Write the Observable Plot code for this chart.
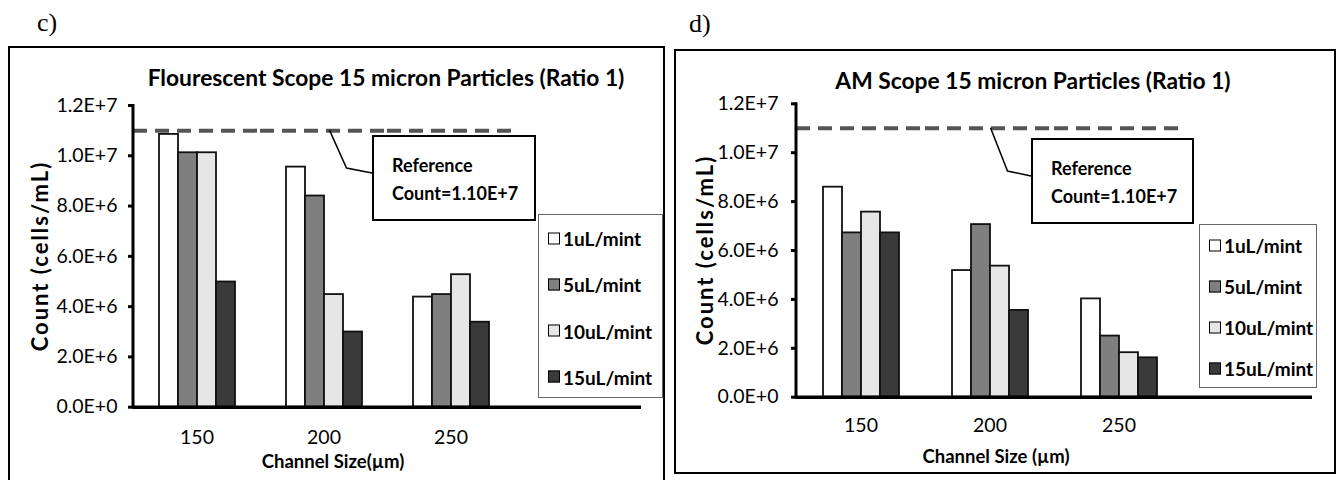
<!DOCTYPE html>
<html><head><meta charset="utf-8">
<script src="https://cdn.jsdelivr.net/npm/d3@7"></script>
<script src="https://cdn.jsdelivr.net/npm/@observablehq/plot@0.6"></script>
<style>
body{margin:0;background:#fff;}
#page{position:relative;width:1341px;height:480px;overflow:hidden;font-family:Lato,"Open Sans",sans-serif;color:#000;}
.panelbox{position:absolute;border:2px solid #000;box-sizing:border-box;}
.plab{position:absolute;font-family:"Liberation Serif",serif;font-size:26px;line-height:1;}
.title{position:absolute;font-weight:bold;white-space:nowrap;transform:translateX(-50%);line-height:1;}
.ytitle{position:absolute;font-weight:bold;white-space:nowrap;font-size:22px;letter-spacing:2px;transform:translate(-50%,-50%) rotate(-90deg);line-height:1;}
.xtitle{position:absolute;font-weight:bold;white-space:nowrap;font-size:18.5px;transform:translateX(-50%);line-height:1;}
.callout{position:absolute;border:2px solid #000;background:#fff;box-sizing:border-box;font-weight:bold;font-size:18px;line-height:1;}
.callout div{position:absolute;white-space:nowrap;}
.legend{position:absolute;border:1.5px solid #666;background:#fff;box-sizing:border-box;font-weight:bold;font-size:19px;}
.legend .item{position:absolute;left:9px;white-space:nowrap;display:flex;align-items:center;transform:translateY(-50%);}
.legend .sw{width:12px;height:12px;border:1.5px solid #000;margin-right:3px;box-sizing:border-box;}
svg g[aria-label="y-axis tick"], svg g[aria-label="y-axis tick"] path{stroke-width:3px;stroke:#000;}
</style></head>
<body><div id="page"></div>
<script>
// ---- data ----
const channelSizes = ["150", "200", "250"];
const slots = ["150", "200", "250", ""];           // Excel-style empty 4th category slot
const flowRates = ["1uL/mint", "5uL/mint", "10uL/mint", "15uL/mint"];
const rateColors = ["#ffffff", "#7f7f7f", "#e6e6e6", "#3a3a3a"];
const yTicks = [0, 2e6, 4e6, 6e6, 8e6, 1e7, 1.2e7];
const referenceCount = 1.1e7;

// Panel c: Flourescent scope
const flour_1uL  = [1.085e7, 9.55e6, 4.38e6];
const flour_5uL  = [1.012e7, 8.4e6, 4.48e6];
const flour_10uL = [1.012e7, 4.48e6, 5.27e6];
const flour_15uL = [4.98e6, 2.99e6, 3.38e6];

// Panel d: AM scope
const am_1uL  = [8.59e6, 5.18e6, 4.02e6];
const am_5uL  = [6.72e6, 7.06e6, 2.5e6];
const am_10uL = [7.57e6, 5.36e6, 1.82e6];
const am_15uL = [6.72e6, 3.55e6, 1.61e6];

const sci = d => {
  if (d === 0) return "0.0E+0";
  const e = Math.floor(Math.log10(d) + 1e-9);
  return (d / 10 ** e).toFixed(1) + "E+" + e;
};

const page = document.getElementById("page");
function addDiv(cls, html, style) {
  const el = document.createElement("div");
  el.className = cls; el.innerHTML = html;
  Object.assign(el.style, style);
  page.appendChild(el);
  return el;
}

function panel(cfg) {
  const rows = [];
  channelSizes.forEach((c, i) => flowRates.forEach((r, j) => rows.push({channel: c, rate: r, value: cfg.series[j][i]})));
  const refRows = channelSizes.map(c => ({channel: c, value: referenceCount}));
  const baseRows = slots.map(c => ({channel: c, value: 0}));

  const chart = Plot.plot({
    width: cfg.width, height: cfg.height,
    marginLeft: cfg.mL, marginRight: cfg.mR, marginTop: cfg.mT, marginBottom: cfg.mB,
    style: {background: "transparent", overflow: "visible", fontFamily: "Lato, sans-serif", fontSize: "19.5px", color: "#000"},
    fx: {domain: slots, padding: 0, label: null, tickSize: 0, tickPadding: cfg.tickPadX, axis: "bottom"},
    x: {domain: flowRates, paddingInner: 0, paddingOuter: 1.23, axis: null},
    y: {domain: [0, 1.2e7], ticks: yTicks, tickFormat: sci, tickSize: 5, tickPadding: cfg.tickPadY, label: null},
    color: {domain: flowRates, range: rateColors},
    marks: [
      Plot.barY(rows, {fx: "channel", x: "rate", y: "value", fill: "rate", stroke: "#111", strokeWidth: 1.8}),
      Plot.ruleY(refRows, {fx: "channel", y: "value", stroke: "#555", strokeWidth: 4, strokeDasharray: "14,8"}),
      Plot.ruleY(baseRows, {fx: "channel", y: "value", stroke: "#000", strokeWidth: 3.5})
    ]
  });
  chart.style.position = "absolute";
  chart.style.left = cfg.left + "px";
  chart.style.top = "0px";
  page.appendChild(chart);

  const y = chart.scale("y"), fx = chart.scale("fx");
  const svg = d3.select(chart);
  const x0 = fx.apply(slots[0]);
  svg.append("line").attr("x1", x0).attr("x2", x0)
    .attr("y1", y.apply(0) + 1.7).attr("y2", y.apply(yTicks[yTicks.length - 1]) - 1)
    .attr("stroke", "#000").attr("stroke-width", 3);

  // leader line from the reference line to the callout
  const cb = cfg.callout;
  const lx = fx.apply("200") + fx.bandwidth / 2 + cfg.leadDx;
  svg.append("path")
    .attr("d", `M${lx},${y.apply(referenceCount)}L${lx + 17},${cb.top + 33}L${cb.left},${cb.top + 38}`)
    .attr("fill", "none").attr("stroke", "#000").attr("stroke-width", 1.5);

  addDiv("callout", `<div style="left:18px;top:${cfg.refTextTop}px">Reference</div><div style="left:18px;top:${cfg.refTextTop + 28}px">Count=1.10E+7</div>`,
    {left: cfg.left + cb.left + "px", top: cb.top + "px", width: cb.w + "px", height: cb.h + "px"});

  const lg = cfg.legend;
  const color = chart.scale("color");
  const items = flowRates.map((r, i) =>
    `<div class="item" style="top:${lg.first + i * lg.step}px"><span class="sw" style="background:${color.apply(r)}"></span>${r}</div>`).join("");
  addDiv("legend", items, {left: cfg.left + lg.left + "px", top: lg.top + "px", width: lg.w + "px", height: lg.h + "px"});
  return chart;
}

// panel frames and labels
addDiv("panelbox", "", {left: "8px", top: "46px", width: "657px", height: "450px"});
addDiv("panelbox", "", {left: "674px", top: "49px", width: "662px", height: "425px"});
addDiv("plab", "c)", {left: "37px", top: "10px"});
addDiv("plab", "d)", {left: "689px", top: "11px"});

panel({left: 0, width: 670, height: 480, mL: 131, mR: 28, mT: 105, mB: 73.3, tickPadX: 23, tickPadY: 11, leadDx: 6,
  series: [flour_1uL, flour_5uL, flour_10uL, flour_15uL],
  callout: {left: 372, top: 135, w: 164, h: 86}, refTextTop: 19,
  legend: {left: 538, top: 214, w: 125, h: 184, first: 23, step: 46.3}});

panel({left: 670, width: 671, height: 480, mL: 126, mR: 29, mT: 103.3, mB: 83.3, tickPadX: 21, tickPadY: 13, leadDx: 1,
  series: [am_1uL, am_5uL, am_10uL, am_15uL],
  callout: {left: 361, top: 138, w: 163, h: 86}, refTextTop: 19,
  legend: {left: 529, top: 224, w: 118, h: 164, first: 20, step: 41}});

// titles
addDiv("title", "Flourescent Scope 15 micron Particles (Ratio 1)", {left: "386px", top: "66px", fontSize: "22.8px"});
addDiv("title", "AM Scope 15 micron Particles (Ratio 1)", {left: "1033px", top: "69px", fontSize: "22.8px"});
addDiv("ytitle", "Count (cells/mL)", {left: "40px", top: "256px"});
addDiv("ytitle", "Count (cells/mL)", {left: "705px", top: "250px"});
addDiv("xtitle", "Channel Size(µm)", {left: "333px", top: "452px"});
addDiv("xtitle", "Channel Size (µm)", {left: "996px", top: "447px"});
</script>
</body></html>
